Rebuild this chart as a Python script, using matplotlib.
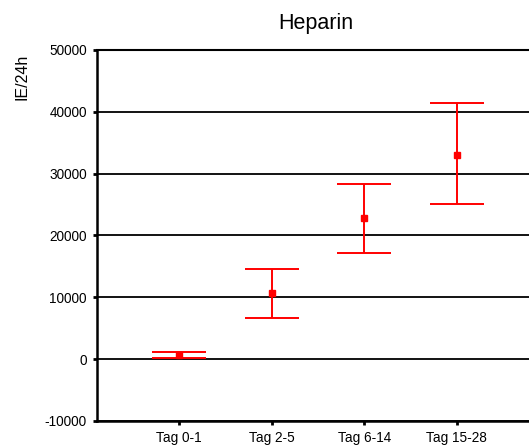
import numpy as np
import matplotlib.pyplot as plt

plt.rcParams['font.family'] = ['Liberation Sans', 'DejaVu Sans']
plt.rcParams['axes.unicode_minus'] = False

categories = ['Tag 0-1', 'Tag 2-5', 'Tag 6-14', 'Tag 15-28']
means = np.array([700, 10700, 22850, 33050])
upper = np.array([1230, 14630, 28290, 41360])
lower = np.array([200, 6640, 17110, 25100])

x = np.arange(1, len(categories) + 1)
yerr = np.vstack([means - lower, upper - means])

fig = plt.figure(figsize=(5.29, 4.45), dpi=100)
ax = fig.add_axes([96.7 / 529, 1 - 421 / 445, 1 - 96.7 / 529, (421 - 50) / 445])

ax.set_ylim(-10000, 50000)
ax.set_xlim(0.112, 4.78)
ax.set_yticks(np.arange(-10000, 50001, 10000))
ax.yaxis.grid(True, color='black', linewidth=1.3)
ax.set_axisbelow(True)

ax.errorbar(x, means, yerr=yerr, fmt='s', color='red', ecolor='red',
            markersize=4, elinewidth=1.4, capsize=19.5, capthick=1.4,
            clip_on=False)

ax.set_xticks(x)
ax.set_xticklabels(categories, fontsize=9.8)
ax.tick_params(axis='y', labelsize=9.8, pad=4)
ax.tick_params(axis='x', pad=4)
ax.tick_params(length=3, width=2, color='black')

for s in ['top', 'right']:
    ax.spines[s].set_visible(False)
ax.spines['left'].set_linewidth(1.8)
ax.spines['bottom'].set_linewidth(1.8)
ax.axhline(50000, color='black', linewidth=1.5, clip_on=False)

fig.text(316 / 529, 1 - 24 / 445, 'Heparin', fontsize=15.5,
         ha='center', va='center')
fig.text(22.5 / 529, 1 - 77 / 445, 'IE/24h', rotation=90, fontsize=11.5,
         ha='center', va='center')

fig.savefig('out.png', dpi=100)
